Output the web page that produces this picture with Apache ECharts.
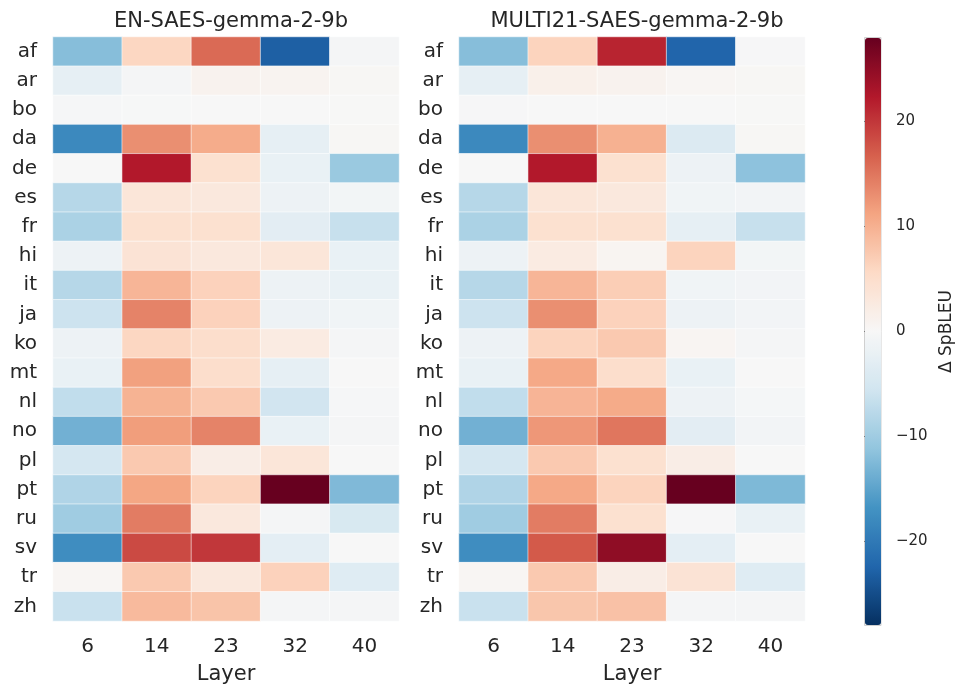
<!DOCTYPE html>
<html>
<head>
<meta charset="utf-8">
<script src="https://cdn.jsdelivr.net/npm/echarts@6/dist/echarts.min.js"></script>
<style>
  html, body { margin: 0; padding: 0; background: #fff; }
  #main { width: 957px; height: 690px; }
</style>
</head>
<body>
<div id="main"></div>
<script>
var languages = ['af','ar','bo','da','de','es','fr','hi','it','ja','ko','mt','nl','no','pl','pt','ru','sv','tr','zh'];
var layers = ['6','14','23','32','40'];
var cbTicks = [-20, -10, 0, 10, 20];

// one row per language, columns = layers 6,14,23,32,40
var enValues = [
  [-12, 6, 16, -23, -0.5],
  [-2.5, -0.5, 1, 0.8, 0.3],
  [-0.3, -0.1, 0, 0, 0.1],
  [-18, 13, 10.5, -2.5, 0.3],
  [0, 22.4, 4.5, -2, -10.5],
  [-8, 3.5, 3, -1.5, -0.7],
  [-9, 4.5, 4.5, -3, -6.5],
  [-1.5, 4, 3, 3.5, -2],
  [-8, 9.5, 6.5, -1.5, -2],
  [-6, 14, 6.5, -1.5, -1],
  [-1.5, 6, 5, 2.5, -0.5],
  [-2, 11.5, 5, -2.5, 0],
  [-7, 9.8, 7.5, -5.5, -0.3],
  [-13.5, 11.8, 14, -2, -0.5],
  [-5, 7.5, 2, 3.5, 0],
  [-8.5, 11, 6.3, 28, -12.5],
  [-10, 14.5, 3, -0.5, -4.5],
  [-17.5, 18.5, 20, -2.8, 0],
  [0.5, 7.5, 3, 6.5, -3.5],
  [-6.3, 9, 8, -0.5, -0.5]
];

var multiValues = [
  [-12, 6.3, 21.5, -22.5, -0.2],
  [-2.5, 1.5, 1, 0.5, 0.3],
  [-0.2, 0, 0, 0, 0.1],
  [-18, 13, 10, -4, 0.3],
  [0, 22.4, 4.5, -1.5, -11.5],
  [-8, 3.5, 3, -1, -0.8],
  [-9, 4.5, 4.5, -2.5, -6.5],
  [-1.5, 2.5, 0.7, 6.3, -0.7],
  [-8, 9.5, 7, -1, -0.8],
  [-6, 13, 6.5, -1.5, -0.8],
  [-1.5, 6.3, 7.5, 0.6, -0.5],
  [-2, 10.8, 5, -2, 0],
  [-7, 9.6, 10.6, -1.5, -0.4],
  [-13.5, 12.3, 15, -3, -0.8],
  [-5, 7.5, 4.5, 2, 0],
  [-8.5, 10.8, 6.3, 28, -12.6],
  [-10, 14.5, 4.5, -0.2, -2],
  [-17.5, 17.3, 25, -2.8, 0],
  [0.5, 7.5, 2, 4, -3.5],
  [-6.3, 7.8, 8.3, -0.5, -0.5]
];

function toCells(rows) {
  var out = [];
  rows.forEach(function (row, i) {
    row.forEach(function (v, j) { out.push([j, i, v]); });
  });
  return out;
}

var textColor = '#262626';
var font = 'DejaVu Sans';

function catX(gi) {
  return {
    type: 'category', gridIndex: gi, data: layers,
    axisLine: { show: false }, axisTick: { show: false }, splitLine: { show: false },
    axisLabel: { fontSize: 20, color: textColor, fontFamily: font, margin: 16 },
    name: 'Layer', nameLocation: 'middle', nameGap: 43,
    nameTextStyle: { fontSize: 21, color: textColor, fontFamily: font }
  };
}
function catY(gi) {
  return {
    type: 'category', gridIndex: gi, data: languages, inverse: true,
    axisLine: { show: false }, axisTick: { show: false }, splitLine: { show: false },
    axisLabel: { fontSize: 20, color: textColor, fontFamily: font, margin: 16 }
  };
}

var myChart = echarts.init(document.getElementById('main'));

var option = {
  backgroundColor: '#ffffff',
  animation: false,
  title: [
    { text: 'EN-SAES-gemma-2-9b', left: 226, top: 6, textAlign: 'center',
      textStyle: { fontSize: 21, fontWeight: 'normal', color: textColor, fontFamily: font } },
    { text: 'MULTI21-SAES-gemma-2-9b', left: 632, top: 6, textAlign: 'center',
      textStyle: { fontSize: 21, fontWeight: 'normal', color: textColor, fontFamily: font } }
  ],
  grid: [
    { left: 53, top: 37, width: 346, height: 589 },
    { left: 459, top: 37, width: 346, height: 589 },
    { left: 864.5, top: 37.5, width: 16.5, height: 588, show: true, borderColor: '#d0d0d0', borderWidth: 1, backgroundColor: 'transparent' }
  ],
  xAxis: [
    catX(0),
    catX(1),
    { type: 'value', gridIndex: 2, min: 0, max: 1, show: false }
  ],
  yAxis: [
    catY(0),
    catY(1),
    {
      type: 'value', gridIndex: 2, position: 'right', min: -28, max: 28,
      axisLine: { show: false }, splitLine: { show: false },
      axisTick: { show: true, length: 7, customValues: cbTicks, lineStyle: { color: textColor, width: 1 } },
      axisLabel: {
        customValues: cbTicks, fontSize: 15, color: textColor, fontFamily: font, margin: 15,
        formatter: function (v) { return String(v).replace('-', '\u2212'); }
      },
      name: '\u0394 SpBLEU', nameLocation: 'middle', nameGap: 57, nameRotate: 90,
      nameTextStyle: { fontSize: 17, color: textColor, fontFamily: font }
    }
  ],
  visualMap: {
    type: 'continuous', min: -28, max: 28, seriesIndex: [0, 1],
    calculable: false, realtime: false, hoverLink: false,
    orient: 'vertical', left: 865, top: 38, padding: 0,
    itemWidth: 16, itemHeight: 587,
    text: null,
    inRange: {
      color: ['#053061', '#2166ac', '#4393c3', '#92c5de', '#d1e5f0', '#f7f7f7',
              '#fddbc7', '#f4a582', '#d6604d', '#b2182b', '#67001f']
    }
  },
  series: [
    {
      type: 'heatmap', xAxisIndex: 0, yAxisIndex: 0, data: toCells(enValues),
      itemStyle: { borderColor: 'rgba(255,255,255,0.55)', borderWidth: 1 },
      emphasis: { disabled: true }
    },
    {
      type: 'heatmap', xAxisIndex: 1, yAxisIndex: 1, data: toCells(multiValues),
      itemStyle: { borderColor: 'rgba(255,255,255,0.55)', borderWidth: 1 },
      emphasis: { disabled: true }
    }
  ]
};

myChart.setOption(option);
</script>
</body>
</html>
